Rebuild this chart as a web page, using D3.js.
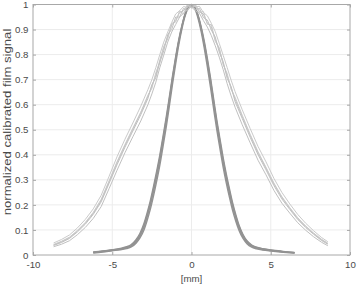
<!DOCTYPE html>
<html lang="en">
<head>
	<meta charset="UTF-8">
	<title>film profiles</title>
	<script type="text/javascript" src="https://cdn.jsdelivr.net/npm/d3@7/dist/d3.min.js"></script>
	<style>
		body { margin: 0; background: #fff; }
		text { font-family: "Liberation Sans", Arial, sans-serif; }
	</style>
</head>
<body>
	<div class="chart"></div>
	<script type="text/javascript">
		// axis ticks
		var xTicks = [-10, -5, 0, 5, 10];
		var yTicks = [0, 0.1, 0.2, 0.3, 0.4, 0.5, 0.6, 0.7, 0.8, 0.9, 1];

		// wide (light) profiles, x in mm
		var lightX = [-8.7,-8.2,-7.7,-7.2,-6.7,-6.2,-5.7,-5.2,-4.7,-4.2,-3.7,-3.2,-2.75,-2.5,-2.25,-2.0,-1.75,-1.5,-1.25,-1.0,
			-0.75,-0.5,-0.25,0,0.25,0.5,0.75,1.0,1.25,1.5,1.75,2.0,2.25,2.5,2.75,3.2,3.7,4.2,4.7,5.2,5.7,6.2,6.7,7.2,7.7,8.2,8.6];
		var light1 = [0.040,0.053,0.069,0.095,0.127,0.166,0.217,0.292,0.368,0.437,0.503,0.568,0.633,0.674,0.718,0.778,0.829,0.870,0.918,0.936,
			0.968,0.975,0.998,0.990,0.997,0.972,0.962,0.925,0.911,0.860,0.822,0.765,0.716,0.668,0.622,0.553,0.478,0.407,0.347,0.284,0.230,0.187,0.146,0.114,0.086,0.061,0.046];
		var light2 = [0.048,0.062,0.080,0.108,0.142,0.184,0.238,0.314,0.392,0.462,0.527,0.594,0.660,0.700,0.748,0.800,0.850,0.890,0.928,0.962,
			0.975,0.992,0.988,1.000,0.990,0.993,0.968,0.955,0.925,0.892,0.845,0.797,0.748,0.698,0.652,0.580,0.505,0.433,0.372,0.306,0.250,0.204,0.162,0.127,0.097,0.070,0.053];
		var light3 = [0.033,0.043,0.057,0.081,0.110,0.146,0.193,0.265,0.338,0.408,0.472,0.535,0.600,0.643,0.690,0.748,0.798,0.850,0.890,0.920,
			0.950,0.965,0.982,0.990,0.975,0.965,0.936,0.910,0.876,0.835,0.790,0.740,0.684,0.635,0.590,0.520,0.448,0.378,0.320,0.258,0.207,0.167,0.129,0.099,0.073,0.051,0.037];
		var light4 = [0.042,0.055,0.071,0.098,0.130,0.170,0.222,0.296,0.372,0.441,0.506,0.570,0.638,0.665,0.728,0.768,0.832,0.862,0.925,0.930,
			0.975,0.962,1.000,0.985,1.000,0.968,0.972,0.921,0.920,0.852,0.828,0.759,0.725,0.660,0.630,0.558,0.482,0.412,0.350,0.287,0.233,0.189,0.149,0.116,0.088,0.063,0.047];
		var light5 = [0.038,0.050,0.066,0.092,0.123,0.162,0.212,0.286,0.360,0.430,0.495,0.560,0.625,0.680,0.708,0.770,0.815,0.880,0.900,0.950,
			0.950,0.985,0.975,1.000,0.978,0.985,0.948,0.938,0.898,0.870,0.810,0.772,0.705,0.672,0.612,0.545,0.470,0.400,0.340,0.277,0.224,0.182,0.142,0.110,0.083,0.058,0.043];

		// narrow (dark) profiles
		var darkX = [-6.2,-5.6,-5.0,-4.5,-4.1,-3.8,-3.5,-3.25,-3.0,-2.8,-2.6,-2.4,-2.2,-2.0,-1.8,-1.6,-1.4,-1.2,-1.0,-0.8,
			-0.6,-0.4,-0.2,0,0.2,0.4,0.6,0.8,1.0,1.2,1.4,1.6,1.8,2.0,2.2,2.4,2.6,2.8,3.0,3.25,3.5,3.8,4.1,4.5,5.0,5.6,6.0,6.5];
		var dark1 = [0.010,0.014,0.019,0.023,0.029,0.036,0.053,0.076,0.112,0.152,0.198,0.253,0.313,0.378,0.452,0.528,0.612,0.698,0.778,0.852,
			0.912,0.960,0.990,0.998,0.988,0.955,0.905,0.842,0.768,0.688,0.602,0.518,0.442,0.368,0.303,0.245,0.190,0.146,0.108,0.073,0.050,0.035,0.028,0.022,0.018,0.014,0.011,0.009];
		var dark2 = [0.012,0.016,0.021,0.026,0.033,0.042,0.061,0.087,0.126,0.168,0.216,0.273,0.334,0.399,0.473,0.548,0.630,0.714,0.791,0.861,
			0.917,0.962,0.988,0.995,0.990,0.960,0.914,0.856,0.785,0.707,0.622,0.538,0.462,0.388,0.322,0.263,0.207,0.160,0.119,0.082,0.057,0.040,0.031,0.025,0.020,0.016,0.012,0.010];
		var dark3 = [0.008,0.012,0.017,0.021,0.026,0.032,0.047,0.068,0.100,0.138,0.182,0.235,0.294,0.358,0.432,0.508,0.593,0.681,0.763,0.840,
			0.904,0.955,0.987,0.999,0.985,0.948,0.895,0.828,0.751,0.669,0.582,0.498,0.423,0.350,0.286,0.229,0.176,0.134,0.098,0.066,0.045,0.031,0.025,0.020,0.016,0.012,0.010,0.008];
		var dark4 = [0.011,0.015,0.020,0.024,0.030,0.038,0.056,0.080,0.118,0.159,0.206,0.262,0.322,0.388,0.462,0.538,0.621,0.706,0.785,0.856,
			0.915,0.963,0.992,1.000,0.991,0.958,0.909,0.848,0.776,0.697,0.611,0.528,0.451,0.377,0.312,0.254,0.199,0.153,0.114,0.078,0.054,0.038,0.030,0.024,0.019,0.015,0.012,0.009];

		var W = 357, H = 287;
		var pLeft = 33, pRight = 350, pTop = 4.5, pBottom = 255;

		var svg = d3.select('.chart').append('svg')
			.attr('width', W).attr('height', H).style('background', '#fff');

		var x = d3.scaleLinear().domain([-10, 10]).range([pLeft, pRight]);
		var y = d3.scaleLinear().domain([0, 1]).range([pBottom, pTop]);

		// grid
		svg.append('g').selectAll('line').data(xTicks.slice(1, -1)).enter().append('line')
			.attr('x1', function(d){ return x(d); }).attr('x2', function(d){ return x(d); })
			.attr('y1', pTop).attr('y2', pBottom)
			.attr('stroke', '#ececec').attr('stroke-width', 1);
		svg.append('g').selectAll('line').data(yTicks.slice(1, -1)).enter().append('line')
			.attr('y1', function(d){ return y(d); }).attr('y2', function(d){ return y(d); })
			.attr('x1', pLeft).attr('x2', pRight)
			.attr('stroke', '#ececec').attr('stroke-width', 1);

		function toPts(xs, ys) {
			return xs.map(function(v, i){ return [v, ys[i]]; });
		}

		var smooth = d3.line().x(function(d){ return x(d[0]); }).y(function(d){ return y(d[1]); })
			.curve(d3.curveMonotoneX);
		var rough = d3.line().x(function(d){ return x(d[0]); }).y(function(d){ return y(d[1]); });

		var plot = svg.append('g');

		[dark1, dark2, dark3, dark4].forEach(function(s){
			plot.append('path').attr('d', smooth(toPts(darkX, s)))
				.attr('fill', 'none').attr('stroke', '#929292').attr('stroke-width', 1.4);
		});
		[light1, light2, light3, light4, light5].forEach(function(s, i){
			plot.append('path').attr('d', rough(toPts(lightX, s)))
				.attr('fill', 'none').attr('stroke', i % 2 ? '#cacaca' : '#c0c0c0').attr('stroke-width', 1);
		});

		// axes (box with inward ticks)
		var axisCol = '#a8a8a8', textCol = '#4a4a4a';
		var fmt = function(d){ return String(d); };
		var xAxis = d3.axisBottom(x).tickValues(xTicks).tickSize(-3).tickPadding(6).tickFormat(fmt);
		var xAxisTop = d3.axisTop(x).tickValues(xTicks).tickSize(-3).tickFormat('');
		var yAxis = d3.axisLeft(y).tickValues(yTicks).tickSize(-3).tickPadding(4.5).tickFormat(fmt);
		var yAxisRight = d3.axisRight(y).tickValues(yTicks).tickSize(-3).tickFormat('');

		function styleAxis(g) {
			g.select('.domain').remove();
			g.selectAll('.tick line').attr('stroke', axisCol);
			g.selectAll('.tick text').attr('fill', textCol).style('font-size', '9.7px');
		}

		svg.append('g').attr('transform', 'translate(0,' + pBottom + ')').call(xAxis).call(styleAxis);
		svg.append('g').attr('transform', 'translate(0,' + pTop + ')').call(xAxisTop).call(styleAxis);
		svg.append('g').attr('transform', 'translate(' + pLeft + ',0)').call(yAxis).call(styleAxis);
		svg.append('g').attr('transform', 'translate(' + pRight + ',0)').call(yAxisRight).call(styleAxis);
		svg.append('rect').attr('x', pLeft).attr('y', pTop).attr('width', pRight - pLeft).attr('height', pBottom - pTop)
			.attr('fill', 'none').attr('stroke', axisCol).attr('stroke-width', 1);

		svg.append('text').attr('x', x(0)).attr('y', 282).attr('text-anchor', 'middle')
			.attr('fill', textCol).style('font-size', '9.7px').text('[mm]');
		svg.append('text').attr('transform', 'translate(11,122) rotate(-90) scale(1.25,1)')
			.attr('text-anchor', 'middle').attr('fill', textCol).style('font-size', '10.5px')
			.text('normalized calibrated film signal');
	</script>
</body>
</html>
